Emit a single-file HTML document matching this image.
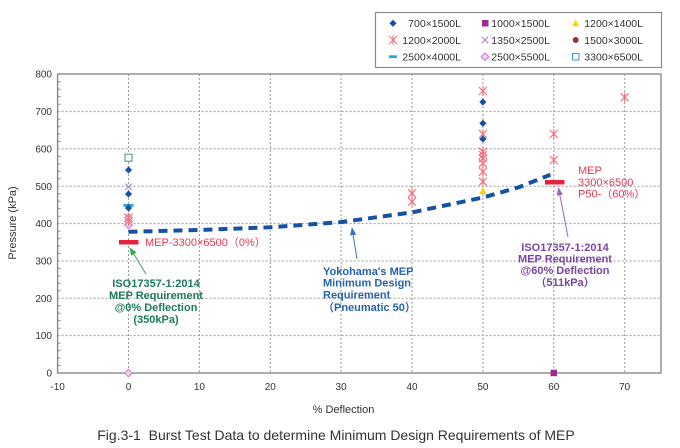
<!DOCTYPE html>
<html><head><meta charset="utf-8"><style>
html,body{margin:0;padding:0;background:#fff;}
svg{display:block;font-family:"Liberation Sans","Noto Sans CJK JP",sans-serif;}
</style></head><body>
<svg width="680" height="448" viewBox="0 0 680 448" xmlns="http://www.w3.org/2000/svg">
<defs>
<g id="dia"><path d="M0,-3.6 L3.6,0 L0,3.6 L-3.6,0Z" fill="#1652a3"/></g>
<g id="ast" stroke="#f36d7a" stroke-width="1.1" fill="none"><path d="M-4,-4 L4,4 M-4,4 L4,-4 M0,-4.8 L0,4.8"/></g>
<g id="odia"><path d="M0,-3.8 L3.8,0 L0,3.8 L-3.8,0Z" fill="#f3d0ef" stroke="#c27fd0" stroke-width="1"/></g>
<g id="xm" stroke="#b58ad0" stroke-width="1.2"><path d="M-3.2,-3.2 L3.2,3.2 M-3.2,3.2 L3.2,-3.2"/></g>
<marker id="ag" viewBox="0 0 10 10" refX="9" refY="5" markerWidth="8" markerHeight="8" orient="auto"><path d="M0,1 L10,5 L0,9Z" fill="#3aa650"/></marker>
<marker id="ab" viewBox="0 0 10 10" refX="9" refY="5" markerWidth="8" markerHeight="8" orient="auto"><path d="M0,1 L10,5 L0,9Z" fill="#3a72c4"/></marker>
<marker id="ap" viewBox="0 0 10 10" refX="9" refY="5" markerWidth="8" markerHeight="8" orient="auto"><path d="M0,1 L10,5 L0,9Z" fill="#a062c0"/></marker>
</defs>

<!-- legend -->
<rect x="375.5" y="12.5" width="286" height="55" fill="#fff" stroke="#8a8a8a" stroke-width="1.2"/>
<g font-size="10.5" fill="#333" text-anchor="end">
<use href="#dia" x="393" y="23.3"/><text x="461" y="27">700×1500L</text>
<rect x="482" y="20" width="6.5" height="6.5" fill="#9b2d8f"/><text x="550" y="27">1000×1500L</text>
<path d="M575.7,19.8 L579.3,26.3 L572.1,26.3Z" fill="#f2d600"/><text x="643" y="27">1200×1400L</text>
<use href="#ast" x="393" y="40"/><text x="461" y="44">1200×2000L</text>
<use href="#xm" x="485" y="40"/><text x="550" y="44">1350×2500L</text>
<circle cx="575.7" cy="40" r="3" fill="#8b3a2a"/><text x="643" y="44">1500×3000L</text>
<rect x="389" y="55.3" width="8" height="2.8" fill="#2ba3e2"/><text x="461" y="60.5">2500×4000L</text>
<use href="#odia" x="485" y="56.7"/><text x="550" y="60.5">2500×5500L</text>
<rect x="572.5" y="53.5" width="6.5" height="6.5" fill="#fff" stroke="#3a9ad8" stroke-width="1"/><text x="643" y="60.5">3300×6500L</text>
</g>

<!-- grid -->
<g stroke="#9a9a9a" stroke-width="1" stroke-dasharray="2,2">
<line x1="128.5" y1="74" x2="128.5" y2="373"/>
<line x1="199.4" y1="74" x2="199.4" y2="373"/>
<line x1="270.3" y1="74" x2="270.3" y2="373"/>
<line x1="341.1" y1="74" x2="341.1" y2="373"/>
<line x1="412" y1="74" x2="412" y2="373"/>
<line x1="482.9" y1="74" x2="482.9" y2="373"/>
<line x1="553.8" y1="74" x2="553.8" y2="373"/>
<line x1="624.7" y1="74" x2="624.7" y2="373"/>
<line x1="57.6" y1="335.6" x2="661" y2="335.6"/>
<line x1="57.6" y1="298.3" x2="661" y2="298.3"/>
<line x1="57.6" y1="261" x2="661" y2="261"/>
<line x1="57.6" y1="223.6" x2="661" y2="223.6"/>
<line x1="57.6" y1="186.3" x2="661" y2="186.3"/>
<line x1="57.6" y1="148.9" x2="661" y2="148.9"/>
<line x1="57.6" y1="111.6" x2="661" y2="111.6"/>
</g>
<rect x="57.6" y="74" width="603.4" height="299" fill="none" stroke="#8a8a8a" stroke-width="1.4"/>
<g stroke="#8a8a8a" stroke-width="1">
<path d="M57.6,365.5h3M57.6,358h3M57.6,350.6h3M57.6,343.1h3M57.6,328.2h3M57.6,320.7h3M57.6,313.2h3M57.6,305.8h3M57.6,290.8h3M57.6,283.4h3M57.6,275.9h3M57.6,268.4h3M57.6,253.5h3M57.6,246h3M57.6,238.6h3M57.6,231.1h3M57.6,216.2h3M57.6,208.7h3M57.6,201.2h3M57.6,193.8h3M57.6,178.8h3M57.6,171.4h3M57.6,163.9h3M57.6,156.4h3M57.6,141.5h3M57.6,134h3M57.6,126.6h3M57.6,119.1h3M57.6,104.2h3M57.6,96.7h3M57.6,89.2h3M57.6,81.8h3"/>
</g>

<!-- tick labels -->
<g font-size="10" fill="#333" text-anchor="end">
<text x="52" y="77.5">800</text><text x="52" y="115">700</text><text x="52" y="152.4">600</text><text x="52" y="189.8">500</text><text x="52" y="227.1">400</text><text x="52" y="264.5">300</text><text x="52" y="301.8">200</text><text x="52" y="339.1">100</text><text x="52" y="376.5">0</text>
</g>
<g font-size="10" fill="#333" text-anchor="middle">
<text x="57.6" y="390">-10</text><text x="128.5" y="390">0</text><text x="199.4" y="390">10</text><text x="270.3" y="390">20</text><text x="341.1" y="390">30</text><text x="412" y="390">40</text><text x="482.9" y="390">50</text><text x="553.8" y="390">60</text><text x="624.7" y="390">70</text>
</g>
<text x="343.5" y="413" font-size="11" fill="#333" text-anchor="middle">% Deflection</text>
<text transform="translate(16,223) rotate(-90)" font-size="11" fill="#333" text-anchor="middle">Pressure (kPa)</text>
<text x="336" y="440" font-size="14" fill="#333" text-anchor="middle" xml:space="preserve">Fig.3-1  Burst Test Data to determine Minimum Design Requirements of MEP</text>

<!-- design curve -->
<polyline points="128.5,231.8 199.4,230 270.3,227.3 341.1,222.1 412,212.4 482.9,197.5 518.5,187.4 550.4,174.7" fill="none" stroke="#1652a3" stroke-width="4" stroke-dasharray="9,6"/>

<!-- MEP bars -->
<rect x="119" y="240" width="19.5" height="4.5" fill="#e8203f"/>
<rect x="545" y="180" width="19.5" height="4.5" fill="#e8203f"/>

<!-- data x=0 -->
<rect x="125" y="154.2" width="7" height="7" fill="#fff" stroke="#4a9a8a" stroke-width="1.1"/>
<use href="#dia" x="128.5" y="170"/>
<use href="#xm" x="128.5" y="186.7"/>
<use href="#dia" x="128.5" y="194"/>
<rect x="123.5" y="204" width="10" height="2.8" fill="#2ba3e2"/>
<use href="#dia" x="128.5" y="208"/>
<use href="#odia" x="128.5" y="217.5"/>
<use href="#odia" x="128.5" y="221.5"/>
<use href="#odia" x="128.5" y="225"/>
<use href="#ast" x="128.5" y="217.7"/>
<use href="#ast" x="128.5" y="221.5"/>
<use href="#odia" x="128.5" y="373"/>

<!-- x=40 -->
<use href="#ast" x="412" y="193.3"/>
<use href="#ast" x="412" y="201.7"/>

<!-- x=50 -->
<use href="#ast" x="482.9" y="91"/>
<use href="#dia" x="482.9" y="102"/>
<use href="#dia" x="482.9" y="123.3"/>
<use href="#ast" x="482.9" y="134"/>
<use href="#dia" x="482.9" y="139"/>
<use href="#ast" x="482.9" y="151.7"/>
<use href="#ast" x="482.9" y="155"/>
<use href="#ast" x="482.9" y="158.3"/>
<use href="#ast" x="482.9" y="163.3"/>
<use href="#ast" x="482.9" y="171.7"/>
<use href="#ast" x="482.9" y="181.7"/>
<path d="M482.9,187.5 L486.6,194 L479.2,194Z" fill="#f2d600"/>

<!-- x=60, 70 -->
<use href="#ast" x="553.8" y="134"/>
<use href="#ast" x="553.8" y="160"/>
<rect x="550.5" y="369.7" width="6.5" height="6.5" fill="#9b2d8f"/>
<use href="#ast" x="624.7" y="97.3"/>

<!-- annotations -->
<text x="145" y="246" font-size="11" fill="#e8384f">MEP-3300×6500（0%）</text>
<line x1="146" y1="274" x2="130" y2="248" stroke="#3aa650" stroke-width="1" marker-end="url(#ag)"/>
<g font-size="11" font-weight="bold" fill="#1d7a5a" text-anchor="middle">
<text x="156" y="287">ISO17357-1:2014</text>
<text x="156" y="299">MEP Requirement</text>
<text x="156" y="311">@0% Deflection</text>
<text x="156" y="323">(350kPa)</text>
</g>

<line x1="357" y1="259" x2="352" y2="228" stroke="#3a72c4" stroke-width="1" marker-end="url(#ab)"/>
<g font-size="11" font-weight="bold" fill="#2563b0">
<text x="323" y="275">Yokohama's MEP</text>
<text x="323" y="286.5">Minimum Design</text>
<text x="323" y="298.5">Requirement</text>
<text x="323" y="311">（Pneumatic 50）</text>
</g>

<g font-size="11" fill="#e8384f">
<text x="578" y="174">MEP</text>
<text x="578" y="186">3300×6500</text>
<text x="578" y="197.5">P50-（60%）</text>
</g>

<line x1="568" y1="237" x2="558.5" y2="188" stroke="#a062c0" stroke-width="1" marker-end="url(#ap)"/>
<g font-size="11" font-weight="bold" fill="#7a45a5" text-anchor="middle">
<text x="565" y="251">ISO17357-1:2014</text>
<text x="565" y="262.5">MEP Requirement</text>
<text x="565" y="274">@60% Deflection</text>
<text x="565" y="286">（511kPa）</text>
</g>
</svg>
</body></html>
